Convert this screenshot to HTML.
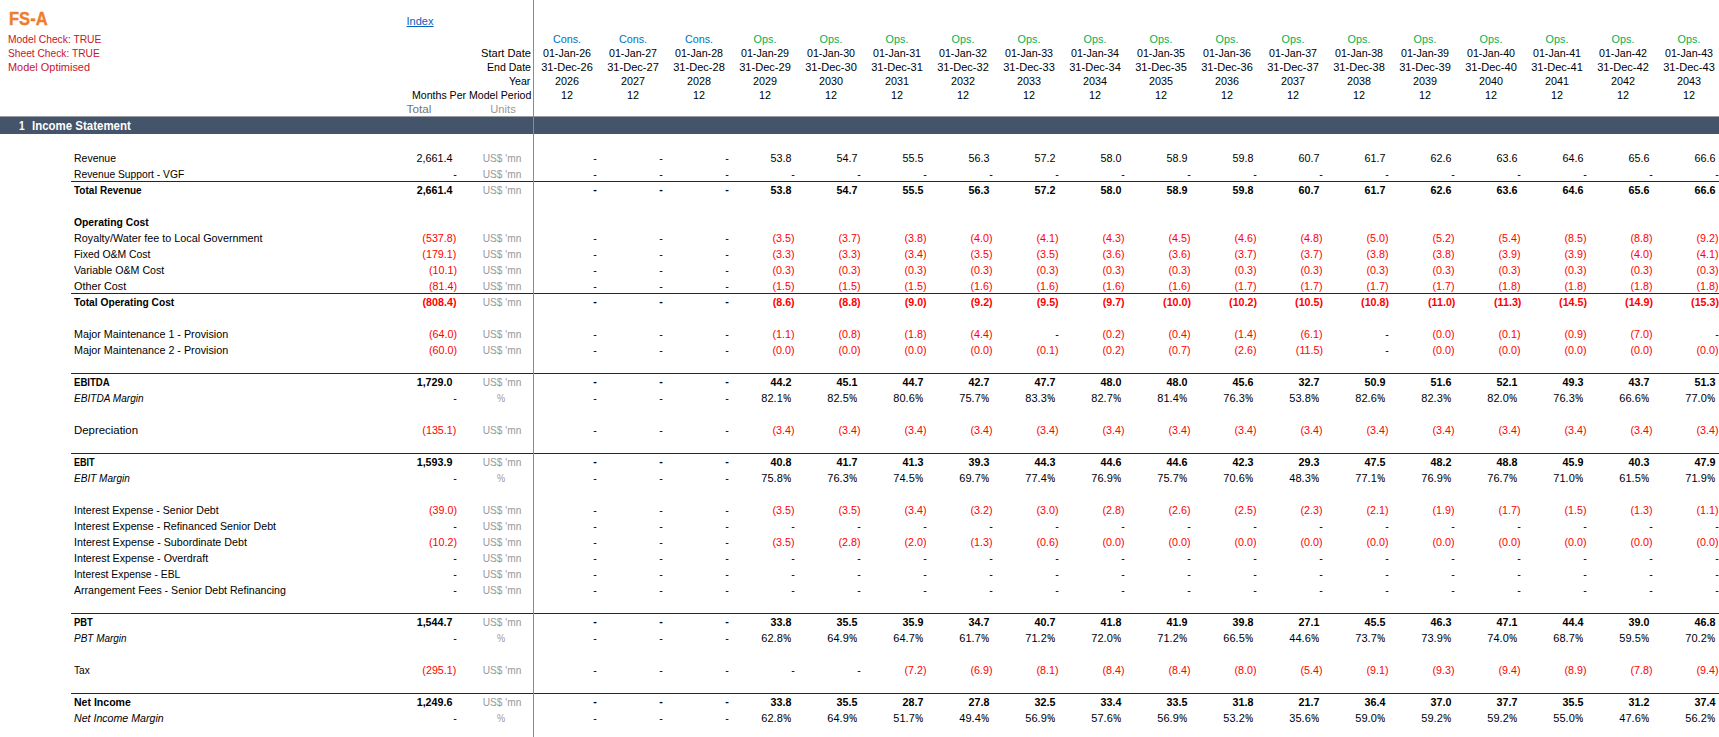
<!DOCTYPE html>
<html><head><meta charset="utf-8"><title>FS-A</title>
<style>
html,body{margin:0;padding:0;background:#fff}
#p{position:relative;width:1719px;height:737px;overflow:hidden;background:#fff;font-family:"Liberation Sans",sans-serif;font-size:11.5px;color:#000}
.t{position:absolute;white-space:nowrap;line-height:16px;height:16px}
.t.h{line-height:14px;height:14px}
.l{transform:scaleX(0.937);transform-origin:0 50%}
.r{transform:scaleX(0.937);transform-origin:100% 50%}
.c{transform:translateX(-50%) scaleX(0.937)}
.b{font-weight:bold}
.r.b{transform:scaleX(0.93)}
.i{font-style:italic}
.n{color:#ff0000}
.d.b{margin-top:-1px}
.g1{color:#747474}
.g2{color:#989898}
.chk{color:#c81428}
.cons{color:#0070c0}
.ops{color:#00b050}
.pc{display:inline-block;transform:scaleX(.8);transform-origin:0 50%;margin-left:.4px;margin-right:-2.05px;-webkit-text-stroke:.15px currentColor}
.lnk{color:#0563c1;text-decoration:underline}
.ttl{position:absolute;white-space:nowrap;font-weight:bold;font-size:18.1px;line-height:24px;color:#ed7d31;-webkit-text-stroke:.35px #ed7d31;transform:translateY(-0.4px) scaleX(.915);transform-origin:0 50%}
.bar{position:absolute;left:0;top:116px;width:1719px;height:18px;background:#44546a;border-top:1px solid #9b9da2;box-sizing:border-box}
.bt{color:#fff;font-weight:bold;font-size:12.5px}
.l.bt{transform:scaleX(.918)}
.hl{position:absolute;left:71px;width:1648px;height:1px;background:#262626}
.vl{position:absolute;left:533px;top:0;width:1px;height:737px;background:#8c8c8c}
</style></head>
<body><div id="p">
<div class="ttl" style="left:9.0px;top:6.6px">FS-A</div>
<div class="t l chk h" style="left:7.9px;top:32px;transform:scaleX(0.8923)">Model Check: TRUE</div>
<div class="t l chk h" style="left:7.68px;top:46px;transform:scaleX(0.8874)">Sheet Check: TRUE</div>
<div class="t l chk h" style="left:7.86px;top:60px;transform:scaleX(0.9506)">Model Optimised</div>
<div class="t c h lnk" style="left:419.6px;top:14px;transform:translateX(-50%) scaleX(.96)">Index</div>
<div class="t l h" style="left:480.64px;top:46px;transform:scaleX(0.9652)">Start Date</div>
<div class="t l h" style="left:486.79px;top:60px;transform:scaleX(0.9172)">End Date</div>
<div class="t l h" style="left:509.07px;top:74px;transform:scaleX(0.9197)">Year</div>
<div class="t l h" style="left:411.78px;top:88px;transform:scaleX(0.9191)">Months Per Model Period</div>
<div class="t c g1 h" style="left:419.3px;top:102px;transform:translateX(-50%) scaleX(1.02)">Total</div>
<div class="t c g2 h" style="left:502.8px;top:102px;transform:translateX(-50%) scaleX(0.97)">Units</div>
<div class="t c cons h" style="left:567px;top:32px">Cons.</div>
<div class="t c h" style="left:566.9px;top:46px;transform:translateX(-50%) scaleX(0.928)">01-Jan-26</div>
<div class="t c h" style="left:566.9px;top:60px;transform:translateX(-50%) scaleX(0.962)">31-Dec-26</div>
<div class="t c h" style="left:567px;top:74px">2026</div>
<div class="t c h" style="left:567px;top:88px">12</div>
<div class="t c cons h" style="left:633px;top:32px">Cons.</div>
<div class="t c h" style="left:632.9px;top:46px;transform:translateX(-50%) scaleX(0.928)">01-Jan-27</div>
<div class="t c h" style="left:632.9px;top:60px;transform:translateX(-50%) scaleX(0.962)">31-Dec-27</div>
<div class="t c h" style="left:633px;top:74px">2027</div>
<div class="t c h" style="left:633px;top:88px">12</div>
<div class="t c cons h" style="left:699px;top:32px">Cons.</div>
<div class="t c h" style="left:698.9px;top:46px;transform:translateX(-50%) scaleX(0.928)">01-Jan-28</div>
<div class="t c h" style="left:698.9px;top:60px;transform:translateX(-50%) scaleX(0.962)">31-Dec-28</div>
<div class="t c h" style="left:699px;top:74px">2028</div>
<div class="t c h" style="left:699px;top:88px">12</div>
<div class="t c ops h" style="left:765px;top:32px">Ops.</div>
<div class="t c h" style="left:764.9px;top:46px;transform:translateX(-50%) scaleX(0.928)">01-Jan-29</div>
<div class="t c h" style="left:764.9px;top:60px;transform:translateX(-50%) scaleX(0.962)">31-Dec-29</div>
<div class="t c h" style="left:765px;top:74px">2029</div>
<div class="t c h" style="left:765px;top:88px">12</div>
<div class="t c ops h" style="left:831px;top:32px">Ops.</div>
<div class="t c h" style="left:830.9px;top:46px;transform:translateX(-50%) scaleX(0.928)">01-Jan-30</div>
<div class="t c h" style="left:830.9px;top:60px;transform:translateX(-50%) scaleX(0.962)">31-Dec-30</div>
<div class="t c h" style="left:831px;top:74px">2030</div>
<div class="t c h" style="left:831px;top:88px">12</div>
<div class="t c ops h" style="left:897px;top:32px">Ops.</div>
<div class="t c h" style="left:896.9px;top:46px;transform:translateX(-50%) scaleX(0.928)">01-Jan-31</div>
<div class="t c h" style="left:896.9px;top:60px;transform:translateX(-50%) scaleX(0.962)">31-Dec-31</div>
<div class="t c h" style="left:897px;top:74px">2031</div>
<div class="t c h" style="left:897px;top:88px">12</div>
<div class="t c ops h" style="left:963px;top:32px">Ops.</div>
<div class="t c h" style="left:962.9px;top:46px;transform:translateX(-50%) scaleX(0.928)">01-Jan-32</div>
<div class="t c h" style="left:962.9px;top:60px;transform:translateX(-50%) scaleX(0.962)">31-Dec-32</div>
<div class="t c h" style="left:963px;top:74px">2032</div>
<div class="t c h" style="left:963px;top:88px">12</div>
<div class="t c ops h" style="left:1029px;top:32px">Ops.</div>
<div class="t c h" style="left:1028.9px;top:46px;transform:translateX(-50%) scaleX(0.928)">01-Jan-33</div>
<div class="t c h" style="left:1028.9px;top:60px;transform:translateX(-50%) scaleX(0.962)">31-Dec-33</div>
<div class="t c h" style="left:1029px;top:74px">2033</div>
<div class="t c h" style="left:1029px;top:88px">12</div>
<div class="t c ops h" style="left:1095px;top:32px">Ops.</div>
<div class="t c h" style="left:1094.9px;top:46px;transform:translateX(-50%) scaleX(0.928)">01-Jan-34</div>
<div class="t c h" style="left:1094.9px;top:60px;transform:translateX(-50%) scaleX(0.962)">31-Dec-34</div>
<div class="t c h" style="left:1095px;top:74px">2034</div>
<div class="t c h" style="left:1095px;top:88px">12</div>
<div class="t c ops h" style="left:1161px;top:32px">Ops.</div>
<div class="t c h" style="left:1160.9px;top:46px;transform:translateX(-50%) scaleX(0.928)">01-Jan-35</div>
<div class="t c h" style="left:1160.9px;top:60px;transform:translateX(-50%) scaleX(0.962)">31-Dec-35</div>
<div class="t c h" style="left:1161px;top:74px">2035</div>
<div class="t c h" style="left:1161px;top:88px">12</div>
<div class="t c ops h" style="left:1227px;top:32px">Ops.</div>
<div class="t c h" style="left:1226.9px;top:46px;transform:translateX(-50%) scaleX(0.928)">01-Jan-36</div>
<div class="t c h" style="left:1226.9px;top:60px;transform:translateX(-50%) scaleX(0.962)">31-Dec-36</div>
<div class="t c h" style="left:1227px;top:74px">2036</div>
<div class="t c h" style="left:1227px;top:88px">12</div>
<div class="t c ops h" style="left:1293px;top:32px">Ops.</div>
<div class="t c h" style="left:1292.9px;top:46px;transform:translateX(-50%) scaleX(0.928)">01-Jan-37</div>
<div class="t c h" style="left:1292.9px;top:60px;transform:translateX(-50%) scaleX(0.962)">31-Dec-37</div>
<div class="t c h" style="left:1293px;top:74px">2037</div>
<div class="t c h" style="left:1293px;top:88px">12</div>
<div class="t c ops h" style="left:1359px;top:32px">Ops.</div>
<div class="t c h" style="left:1358.9px;top:46px;transform:translateX(-50%) scaleX(0.928)">01-Jan-38</div>
<div class="t c h" style="left:1358.9px;top:60px;transform:translateX(-50%) scaleX(0.962)">31-Dec-38</div>
<div class="t c h" style="left:1359px;top:74px">2038</div>
<div class="t c h" style="left:1359px;top:88px">12</div>
<div class="t c ops h" style="left:1425px;top:32px">Ops.</div>
<div class="t c h" style="left:1424.9px;top:46px;transform:translateX(-50%) scaleX(0.928)">01-Jan-39</div>
<div class="t c h" style="left:1424.9px;top:60px;transform:translateX(-50%) scaleX(0.962)">31-Dec-39</div>
<div class="t c h" style="left:1425px;top:74px">2039</div>
<div class="t c h" style="left:1425px;top:88px">12</div>
<div class="t c ops h" style="left:1491px;top:32px">Ops.</div>
<div class="t c h" style="left:1490.9px;top:46px;transform:translateX(-50%) scaleX(0.928)">01-Jan-40</div>
<div class="t c h" style="left:1490.9px;top:60px;transform:translateX(-50%) scaleX(0.962)">31-Dec-40</div>
<div class="t c h" style="left:1491px;top:74px">2040</div>
<div class="t c h" style="left:1491px;top:88px">12</div>
<div class="t c ops h" style="left:1557px;top:32px">Ops.</div>
<div class="t c h" style="left:1556.9px;top:46px;transform:translateX(-50%) scaleX(0.928)">01-Jan-41</div>
<div class="t c h" style="left:1556.9px;top:60px;transform:translateX(-50%) scaleX(0.962)">31-Dec-41</div>
<div class="t c h" style="left:1557px;top:74px">2041</div>
<div class="t c h" style="left:1557px;top:88px">12</div>
<div class="t c ops h" style="left:1623px;top:32px">Ops.</div>
<div class="t c h" style="left:1622.9px;top:46px;transform:translateX(-50%) scaleX(0.928)">01-Jan-42</div>
<div class="t c h" style="left:1622.9px;top:60px;transform:translateX(-50%) scaleX(0.962)">31-Dec-42</div>
<div class="t c h" style="left:1623px;top:74px">2042</div>
<div class="t c h" style="left:1623px;top:88px">12</div>
<div class="t c ops h" style="left:1689px;top:32px">Ops.</div>
<div class="t c h" style="left:1688.9px;top:46px;transform:translateX(-50%) scaleX(0.928)">01-Jan-43</div>
<div class="t c h" style="left:1688.9px;top:60px;transform:translateX(-50%) scaleX(0.962)">31-Dec-43</div>
<div class="t c h" style="left:1689px;top:74px">2043</div>
<div class="t c h" style="left:1689px;top:88px">12</div>
<div class="bar"></div>
<div class="t l bt" style="left:18.6px;top:118px;transform:scaleX(.82)">1</div>
<div class="t l bt" style="left:32px;top:118px">Income Statement</div>
<div class="t l lb" style="left:74.1px;top:150px;transform:scaleX(0.9133)">Revenue</div>
<div class="t r" style="right:1266.4px;top:150px">2,661.4</div>
<div class="t c g2" style="left:502.0px;top:150px;transform:translateX(-50%) scaleX(0.885)">US$ 'mn</div>
<div class="t r d" style="right:1122.1px;top:150px">-</div>
<div class="t r d" style="right:1056.1px;top:150px">-</div>
<div class="t r d" style="right:990.1px;top:150px">-</div>
<div class="t r" style="right:928.0px;top:150px">53.8</div>
<div class="t r" style="right:862.0px;top:150px">54.7</div>
<div class="t r" style="right:796.0px;top:150px">55.5</div>
<div class="t r" style="right:730.0px;top:150px">56.3</div>
<div class="t r" style="right:664.0px;top:150px">57.2</div>
<div class="t r" style="right:598.0px;top:150px">58.0</div>
<div class="t r" style="right:532.0px;top:150px">58.9</div>
<div class="t r" style="right:466.0px;top:150px">59.8</div>
<div class="t r" style="right:400.0px;top:150px">60.7</div>
<div class="t r" style="right:334.0px;top:150px">61.7</div>
<div class="t r" style="right:268.0px;top:150px">62.6</div>
<div class="t r" style="right:202.0px;top:150px">63.6</div>
<div class="t r" style="right:136.0px;top:150px">64.6</div>
<div class="t r" style="right:70.0px;top:150px">65.6</div>
<div class="t r" style="right:4.0px;top:150px">66.6</div>
<div class="t l lb" style="left:74.11px;top:166px;transform:scaleX(0.8932)">Revenue Support - VGF</div>
<div class="t r d" style="right:1262.5px;top:166px">-</div>
<div class="t c g2" style="left:502.0px;top:166px;transform:translateX(-50%) scaleX(0.885)">US$ 'mn</div>
<div class="t r d" style="right:1122.1px;top:166px">-</div>
<div class="t r d" style="right:1056.1px;top:166px">-</div>
<div class="t r d" style="right:990.1px;top:166px">-</div>
<div class="t r d" style="right:924.1px;top:166px">-</div>
<div class="t r d" style="right:858.1px;top:166px">-</div>
<div class="t r d" style="right:792.1px;top:166px">-</div>
<div class="t r d" style="right:726.1px;top:166px">-</div>
<div class="t r d" style="right:660.1px;top:166px">-</div>
<div class="t r d" style="right:594.1px;top:166px">-</div>
<div class="t r d" style="right:528.1px;top:166px">-</div>
<div class="t r d" style="right:462.1px;top:166px">-</div>
<div class="t r d" style="right:396.1px;top:166px">-</div>
<div class="t r d" style="right:330.1px;top:166px">-</div>
<div class="t r d" style="right:264.1px;top:166px">-</div>
<div class="t r d" style="right:198.1px;top:166px">-</div>
<div class="t r d" style="right:132.1px;top:166px">-</div>
<div class="t r d" style="right:66.1px;top:166px">-</div>
<div class="t r d" style="right:0.1px;top:166px">-</div>
<div class="t l b lb" style="left:74.34px;top:182px;transform:scaleX(0.8705)">Total Revenue</div>
<div class="t r b" style="right:1266.4px;top:182px">2,661.4</div>
<div class="t c g2" style="left:502.0px;top:182px;transform:translateX(-50%) scaleX(0.885)">US$ 'mn</div>
<div class="t r d b" style="right:1122.1px;top:182px">-</div>
<div class="t r d b" style="right:1056.1px;top:182px">-</div>
<div class="t r d b" style="right:990.1px;top:182px">-</div>
<div class="t r b" style="right:928.0px;top:182px">53.8</div>
<div class="t r b" style="right:862.0px;top:182px">54.7</div>
<div class="t r b" style="right:796.0px;top:182px">55.5</div>
<div class="t r b" style="right:730.0px;top:182px">56.3</div>
<div class="t r b" style="right:664.0px;top:182px">57.2</div>
<div class="t r b" style="right:598.0px;top:182px">58.0</div>
<div class="t r b" style="right:532.0px;top:182px">58.9</div>
<div class="t r b" style="right:466.0px;top:182px">59.8</div>
<div class="t r b" style="right:400.0px;top:182px">60.7</div>
<div class="t r b" style="right:334.0px;top:182px">61.7</div>
<div class="t r b" style="right:268.0px;top:182px">62.6</div>
<div class="t r b" style="right:202.0px;top:182px">63.6</div>
<div class="t r b" style="right:136.0px;top:182px">64.6</div>
<div class="t r b" style="right:70.0px;top:182px">65.6</div>
<div class="t r b" style="right:4.0px;top:182px">66.6</div>
<div class="t l b lb" style="left:73.97px;top:214px;transform:scaleX(0.8992)">Operating Cost</div>
<div class="t l lb" style="left:74.09px;top:230px;transform:scaleX(0.9383)">Royalty/Water fee to Local Government</div>
<div class="t r n" style="right:1262.4px;top:230px">(537.8)</div>
<div class="t c g2" style="left:502.0px;top:230px;transform:translateX(-50%) scaleX(0.885)">US$ 'mn</div>
<div class="t r d" style="right:1122.1px;top:230px">-</div>
<div class="t r d" style="right:1056.1px;top:230px">-</div>
<div class="t r d" style="right:990.1px;top:230px">-</div>
<div class="t r n" style="right:924.0px;top:230px">(3.5)</div>
<div class="t r n" style="right:858.0px;top:230px">(3.7)</div>
<div class="t r n" style="right:792.0px;top:230px">(3.8)</div>
<div class="t r n" style="right:726.0px;top:230px">(4.0)</div>
<div class="t r n" style="right:660.0px;top:230px">(4.1)</div>
<div class="t r n" style="right:594.0px;top:230px">(4.3)</div>
<div class="t r n" style="right:528.0px;top:230px">(4.5)</div>
<div class="t r n" style="right:462.0px;top:230px">(4.6)</div>
<div class="t r n" style="right:396.0px;top:230px">(4.8)</div>
<div class="t r n" style="right:330.0px;top:230px">(5.0)</div>
<div class="t r n" style="right:264.0px;top:230px">(5.2)</div>
<div class="t r n" style="right:198.0px;top:230px">(5.4)</div>
<div class="t r n" style="right:132.0px;top:230px">(8.5)</div>
<div class="t r n" style="right:66.0px;top:230px">(8.8)</div>
<div class="t r n" style="right:0.0px;top:230px">(9.2)</div>
<div class="t l lb" style="left:74.1px;top:246px;transform:scaleX(0.9064)">Fixed O&amp;M Cost</div>
<div class="t r n" style="right:1262.4px;top:246px">(179.1)</div>
<div class="t c g2" style="left:502.0px;top:246px;transform:translateX(-50%) scaleX(0.885)">US$ 'mn</div>
<div class="t r d" style="right:1122.1px;top:246px">-</div>
<div class="t r d" style="right:1056.1px;top:246px">-</div>
<div class="t r d" style="right:990.1px;top:246px">-</div>
<div class="t r n" style="right:924.0px;top:246px">(3.3)</div>
<div class="t r n" style="right:858.0px;top:246px">(3.3)</div>
<div class="t r n" style="right:792.0px;top:246px">(3.4)</div>
<div class="t r n" style="right:726.0px;top:246px">(3.5)</div>
<div class="t r n" style="right:660.0px;top:246px">(3.5)</div>
<div class="t r n" style="right:594.0px;top:246px">(3.6)</div>
<div class="t r n" style="right:528.0px;top:246px">(3.6)</div>
<div class="t r n" style="right:462.0px;top:246px">(3.7)</div>
<div class="t r n" style="right:396.0px;top:246px">(3.7)</div>
<div class="t r n" style="right:330.0px;top:246px">(3.8)</div>
<div class="t r n" style="right:264.0px;top:246px">(3.8)</div>
<div class="t r n" style="right:198.0px;top:246px">(3.9)</div>
<div class="t r n" style="right:132.0px;top:246px">(3.9)</div>
<div class="t r n" style="right:66.0px;top:246px">(4.0)</div>
<div class="t r n" style="right:0.0px;top:246px">(4.1)</div>
<div class="t l lb" style="left:74.33px;top:262px;transform:scaleX(0.9252)">Variable O&amp;M Cost</div>
<div class="t r n" style="right:1262.4px;top:262px">(10.1)</div>
<div class="t c g2" style="left:502.0px;top:262px;transform:translateX(-50%) scaleX(0.885)">US$ 'mn</div>
<div class="t r d" style="right:1122.1px;top:262px">-</div>
<div class="t r d" style="right:1056.1px;top:262px">-</div>
<div class="t r d" style="right:990.1px;top:262px">-</div>
<div class="t r n" style="right:924.0px;top:262px">(0.3)</div>
<div class="t r n" style="right:858.0px;top:262px">(0.3)</div>
<div class="t r n" style="right:792.0px;top:262px">(0.3)</div>
<div class="t r n" style="right:726.0px;top:262px">(0.3)</div>
<div class="t r n" style="right:660.0px;top:262px">(0.3)</div>
<div class="t r n" style="right:594.0px;top:262px">(0.3)</div>
<div class="t r n" style="right:528.0px;top:262px">(0.3)</div>
<div class="t r n" style="right:462.0px;top:262px">(0.3)</div>
<div class="t r n" style="right:396.0px;top:262px">(0.3)</div>
<div class="t r n" style="right:330.0px;top:262px">(0.3)</div>
<div class="t r n" style="right:264.0px;top:262px">(0.3)</div>
<div class="t r n" style="right:198.0px;top:262px">(0.3)</div>
<div class="t r n" style="right:132.0px;top:262px">(0.3)</div>
<div class="t r n" style="right:66.0px;top:262px">(0.3)</div>
<div class="t r n" style="right:0.0px;top:262px">(0.3)</div>
<div class="t l lb" style="left:74.32px;top:278px;transform:scaleX(0.9389)">Other Cost</div>
<div class="t r n" style="right:1262.4px;top:278px">(81.4)</div>
<div class="t c g2" style="left:502.0px;top:278px;transform:translateX(-50%) scaleX(0.885)">US$ 'mn</div>
<div class="t r d" style="right:1122.1px;top:278px">-</div>
<div class="t r d" style="right:1056.1px;top:278px">-</div>
<div class="t r d" style="right:990.1px;top:278px">-</div>
<div class="t r n" style="right:924.0px;top:278px">(1.5)</div>
<div class="t r n" style="right:858.0px;top:278px">(1.5)</div>
<div class="t r n" style="right:792.0px;top:278px">(1.5)</div>
<div class="t r n" style="right:726.0px;top:278px">(1.6)</div>
<div class="t r n" style="right:660.0px;top:278px">(1.6)</div>
<div class="t r n" style="right:594.0px;top:278px">(1.6)</div>
<div class="t r n" style="right:528.0px;top:278px">(1.6)</div>
<div class="t r n" style="right:462.0px;top:278px">(1.7)</div>
<div class="t r n" style="right:396.0px;top:278px">(1.7)</div>
<div class="t r n" style="right:330.0px;top:278px">(1.7)</div>
<div class="t r n" style="right:264.0px;top:278px">(1.7)</div>
<div class="t r n" style="right:198.0px;top:278px">(1.8)</div>
<div class="t r n" style="right:132.0px;top:278px">(1.8)</div>
<div class="t r n" style="right:66.0px;top:278px">(1.8)</div>
<div class="t r n" style="right:0.0px;top:278px">(1.8)</div>
<div class="t l b lb" style="left:74.45px;top:294px;transform:scaleX(0.8882)">Total Operating Cost</div>
<div class="t r n b" style="right:1262.4px;top:294px">(808.4)</div>
<div class="t c g2" style="left:502.0px;top:294px;transform:translateX(-50%) scaleX(0.885)">US$ 'mn</div>
<div class="t r d b" style="right:1122.1px;top:294px">-</div>
<div class="t r d b" style="right:1056.1px;top:294px">-</div>
<div class="t r d b" style="right:990.1px;top:294px">-</div>
<div class="t r n b" style="right:924.0px;top:294px">(8.6)</div>
<div class="t r n b" style="right:858.0px;top:294px">(8.8)</div>
<div class="t r n b" style="right:792.0px;top:294px">(9.0)</div>
<div class="t r n b" style="right:726.0px;top:294px">(9.2)</div>
<div class="t r n b" style="right:660.0px;top:294px">(9.5)</div>
<div class="t r n b" style="right:594.0px;top:294px">(9.7)</div>
<div class="t r n b" style="right:528.0px;top:294px">(10.0)</div>
<div class="t r n b" style="right:462.0px;top:294px">(10.2)</div>
<div class="t r n b" style="right:396.0px;top:294px">(10.5)</div>
<div class="t r n b" style="right:330.0px;top:294px">(10.8)</div>
<div class="t r n b" style="right:264.0px;top:294px">(11.0)</div>
<div class="t r n b" style="right:198.0px;top:294px">(11.3)</div>
<div class="t r n b" style="right:132.0px;top:294px">(14.5)</div>
<div class="t r n b" style="right:66.0px;top:294px">(14.9)</div>
<div class="t r n b" style="right:0.0px;top:294px">(15.3)</div>
<div class="t l lb" style="left:74.07px;top:326px;transform:scaleX(0.9345)">Major Maintenance 1 - Provision</div>
<div class="t r n" style="right:1262.4px;top:326px">(64.0)</div>
<div class="t c g2" style="left:502.0px;top:326px;transform:translateX(-50%) scaleX(0.885)">US$ 'mn</div>
<div class="t r d" style="right:1122.1px;top:326px">-</div>
<div class="t r d" style="right:1056.1px;top:326px">-</div>
<div class="t r d" style="right:990.1px;top:326px">-</div>
<div class="t r n" style="right:924.0px;top:326px">(1.1)</div>
<div class="t r n" style="right:858.0px;top:326px">(0.8)</div>
<div class="t r n" style="right:792.0px;top:326px">(1.8)</div>
<div class="t r n" style="right:726.0px;top:326px">(4.4)</div>
<div class="t r d" style="right:660.1px;top:326px">-</div>
<div class="t r n" style="right:594.0px;top:326px">(0.2)</div>
<div class="t r n" style="right:528.0px;top:326px">(0.4)</div>
<div class="t r n" style="right:462.0px;top:326px">(1.4)</div>
<div class="t r n" style="right:396.0px;top:326px">(6.1)</div>
<div class="t r d" style="right:330.1px;top:326px">-</div>
<div class="t r n" style="right:264.0px;top:326px">(0.0)</div>
<div class="t r n" style="right:198.0px;top:326px">(0.1)</div>
<div class="t r n" style="right:132.0px;top:326px">(0.9)</div>
<div class="t r n" style="right:66.0px;top:326px">(7.0)</div>
<div class="t r d" style="right:0.1px;top:326px">-</div>
<div class="t l lb" style="left:74.07px;top:342px;transform:scaleX(0.9345)">Major Maintenance 2 - Provision</div>
<div class="t r n" style="right:1262.4px;top:342px">(60.0)</div>
<div class="t c g2" style="left:502.0px;top:342px;transform:translateX(-50%) scaleX(0.885)">US$ 'mn</div>
<div class="t r d" style="right:1122.1px;top:342px">-</div>
<div class="t r d" style="right:1056.1px;top:342px">-</div>
<div class="t r d" style="right:990.1px;top:342px">-</div>
<div class="t r n" style="right:924.0px;top:342px">(0.0)</div>
<div class="t r n" style="right:858.0px;top:342px">(0.0)</div>
<div class="t r n" style="right:792.0px;top:342px">(0.0)</div>
<div class="t r n" style="right:726.0px;top:342px">(0.0)</div>
<div class="t r n" style="right:660.0px;top:342px">(0.1)</div>
<div class="t r n" style="right:594.0px;top:342px">(0.2)</div>
<div class="t r n" style="right:528.0px;top:342px">(0.7)</div>
<div class="t r n" style="right:462.0px;top:342px">(2.6)</div>
<div class="t r n" style="right:396.0px;top:342px">(11.5)</div>
<div class="t r d" style="right:330.1px;top:342px">-</div>
<div class="t r n" style="right:264.0px;top:342px">(0.0)</div>
<div class="t r n" style="right:198.0px;top:342px">(0.0)</div>
<div class="t r n" style="right:132.0px;top:342px">(0.0)</div>
<div class="t r n" style="right:66.0px;top:342px">(0.0)</div>
<div class="t r n" style="right:0.0px;top:342px">(0.0)</div>
<div class="t l b lb" style="left:74.17px;top:374px;transform:scaleX(0.8349)">EBITDA</div>
<div class="t r b" style="right:1266.4px;top:374px">1,729.0</div>
<div class="t c g2" style="left:502.0px;top:374px;transform:translateX(-50%) scaleX(0.885)">US$ 'mn</div>
<div class="t r d b" style="right:1122.1px;top:374px">-</div>
<div class="t r d b" style="right:1056.1px;top:374px">-</div>
<div class="t r d b" style="right:990.1px;top:374px">-</div>
<div class="t r b" style="right:928.0px;top:374px">44.2</div>
<div class="t r b" style="right:862.0px;top:374px">45.1</div>
<div class="t r b" style="right:796.0px;top:374px">44.7</div>
<div class="t r b" style="right:730.0px;top:374px">42.7</div>
<div class="t r b" style="right:664.0px;top:374px">47.7</div>
<div class="t r b" style="right:598.0px;top:374px">48.0</div>
<div class="t r b" style="right:532.0px;top:374px">48.0</div>
<div class="t r b" style="right:466.0px;top:374px">45.6</div>
<div class="t r b" style="right:400.0px;top:374px">32.7</div>
<div class="t r b" style="right:334.0px;top:374px">50.9</div>
<div class="t r b" style="right:268.0px;top:374px">51.6</div>
<div class="t r b" style="right:202.0px;top:374px">52.1</div>
<div class="t r b" style="right:136.0px;top:374px">49.3</div>
<div class="t r b" style="right:70.0px;top:374px">43.7</div>
<div class="t r b" style="right:4.0px;top:374px">51.3</div>
<div class="t l i lb" style="left:74.41px;top:390px;transform:scaleX(0.8771)">EBITDA Margin</div>
<div class="t r d" style="right:1262.5px;top:390px">-</div>
<div class="t c g2" style="left:501.0px;top:390px;transform:translateX(-50%) scaleX(0.8)">%</div>
<div class="t r d" style="right:1122.1px;top:390px">-</div>
<div class="t r d" style="right:1056.1px;top:390px">-</div>
<div class="t r d" style="right:990.1px;top:390px">-</div>
<div class="t r" style="right:928.1px;top:390px;transform:scaleX(0.957)">82.1<span class="pc">%</span></div>
<div class="t r" style="right:862.1px;top:390px;transform:scaleX(0.957)">82.5<span class="pc">%</span></div>
<div class="t r" style="right:796.1px;top:390px;transform:scaleX(0.957)">80.6<span class="pc">%</span></div>
<div class="t r" style="right:730.1px;top:390px;transform:scaleX(0.957)">75.7<span class="pc">%</span></div>
<div class="t r" style="right:664.1px;top:390px;transform:scaleX(0.957)">83.3<span class="pc">%</span></div>
<div class="t r" style="right:598.1px;top:390px;transform:scaleX(0.957)">82.7<span class="pc">%</span></div>
<div class="t r" style="right:532.1px;top:390px;transform:scaleX(0.957)">81.4<span class="pc">%</span></div>
<div class="t r" style="right:466.1px;top:390px;transform:scaleX(0.957)">76.3<span class="pc">%</span></div>
<div class="t r" style="right:400.1px;top:390px;transform:scaleX(0.957)">53.8<span class="pc">%</span></div>
<div class="t r" style="right:334.1px;top:390px;transform:scaleX(0.957)">82.6<span class="pc">%</span></div>
<div class="t r" style="right:268.1px;top:390px;transform:scaleX(0.957)">82.3<span class="pc">%</span></div>
<div class="t r" style="right:202.1px;top:390px;transform:scaleX(0.957)">82.0<span class="pc">%</span></div>
<div class="t r" style="right:136.1px;top:390px;transform:scaleX(0.957)">76.3<span class="pc">%</span></div>
<div class="t r" style="right:70.1px;top:390px;transform:scaleX(0.957)">66.6<span class="pc">%</span></div>
<div class="t r" style="right:4.1px;top:390px;transform:scaleX(0.957)">77.0<span class="pc">%</span></div>
<div class="t l lb" style="left:74.04px;top:422px;transform:scaleX(0.9914)">Depreciation</div>
<div class="t r n" style="right:1262.4px;top:422px">(135.1)</div>
<div class="t c g2" style="left:502.0px;top:422px;transform:translateX(-50%) scaleX(0.885)">US$ 'mn</div>
<div class="t r d" style="right:1122.1px;top:422px">-</div>
<div class="t r d" style="right:1056.1px;top:422px">-</div>
<div class="t r d" style="right:990.1px;top:422px">-</div>
<div class="t r n" style="right:924.0px;top:422px">(3.4)</div>
<div class="t r n" style="right:858.0px;top:422px">(3.4)</div>
<div class="t r n" style="right:792.0px;top:422px">(3.4)</div>
<div class="t r n" style="right:726.0px;top:422px">(3.4)</div>
<div class="t r n" style="right:660.0px;top:422px">(3.4)</div>
<div class="t r n" style="right:594.0px;top:422px">(3.4)</div>
<div class="t r n" style="right:528.0px;top:422px">(3.4)</div>
<div class="t r n" style="right:462.0px;top:422px">(3.4)</div>
<div class="t r n" style="right:396.0px;top:422px">(3.4)</div>
<div class="t r n" style="right:330.0px;top:422px">(3.4)</div>
<div class="t r n" style="right:264.0px;top:422px">(3.4)</div>
<div class="t r n" style="right:198.0px;top:422px">(3.4)</div>
<div class="t r n" style="right:132.0px;top:422px">(3.4)</div>
<div class="t r n" style="right:66.0px;top:422px">(3.4)</div>
<div class="t r n" style="right:0.0px;top:422px">(3.4)</div>
<div class="t l b lb" style="left:74.18px;top:454px;transform:scaleX(0.7885)">EBIT</div>
<div class="t r b" style="right:1266.4px;top:454px">1,593.9</div>
<div class="t c g2" style="left:502.0px;top:454px;transform:translateX(-50%) scaleX(0.885)">US$ 'mn</div>
<div class="t r d b" style="right:1122.1px;top:454px">-</div>
<div class="t r d b" style="right:1056.1px;top:454px">-</div>
<div class="t r d b" style="right:990.1px;top:454px">-</div>
<div class="t r b" style="right:928.0px;top:454px">40.8</div>
<div class="t r b" style="right:862.0px;top:454px">41.7</div>
<div class="t r b" style="right:796.0px;top:454px">41.3</div>
<div class="t r b" style="right:730.0px;top:454px">39.3</div>
<div class="t r b" style="right:664.0px;top:454px">44.3</div>
<div class="t r b" style="right:598.0px;top:454px">44.6</div>
<div class="t r b" style="right:532.0px;top:454px">44.6</div>
<div class="t r b" style="right:466.0px;top:454px">42.3</div>
<div class="t r b" style="right:400.0px;top:454px">29.3</div>
<div class="t r b" style="right:334.0px;top:454px">47.5</div>
<div class="t r b" style="right:268.0px;top:454px">48.2</div>
<div class="t r b" style="right:202.0px;top:454px">48.8</div>
<div class="t r b" style="right:136.0px;top:454px">45.9</div>
<div class="t r b" style="right:70.0px;top:454px">40.3</div>
<div class="t r b" style="right:4.0px;top:454px">47.9</div>
<div class="t l i lb" style="left:74.41px;top:470px;transform:scaleX(0.873)">EBIT Margin</div>
<div class="t r d" style="right:1262.5px;top:470px">-</div>
<div class="t c g2" style="left:501.0px;top:470px;transform:translateX(-50%) scaleX(0.8)">%</div>
<div class="t r d" style="right:1122.1px;top:470px">-</div>
<div class="t r d" style="right:1056.1px;top:470px">-</div>
<div class="t r d" style="right:990.1px;top:470px">-</div>
<div class="t r" style="right:928.1px;top:470px;transform:scaleX(0.957)">75.8<span class="pc">%</span></div>
<div class="t r" style="right:862.1px;top:470px;transform:scaleX(0.957)">76.3<span class="pc">%</span></div>
<div class="t r" style="right:796.1px;top:470px;transform:scaleX(0.957)">74.5<span class="pc">%</span></div>
<div class="t r" style="right:730.1px;top:470px;transform:scaleX(0.957)">69.7<span class="pc">%</span></div>
<div class="t r" style="right:664.1px;top:470px;transform:scaleX(0.957)">77.4<span class="pc">%</span></div>
<div class="t r" style="right:598.1px;top:470px;transform:scaleX(0.957)">76.9<span class="pc">%</span></div>
<div class="t r" style="right:532.1px;top:470px;transform:scaleX(0.957)">75.7<span class="pc">%</span></div>
<div class="t r" style="right:466.1px;top:470px;transform:scaleX(0.957)">70.6<span class="pc">%</span></div>
<div class="t r" style="right:400.1px;top:470px;transform:scaleX(0.957)">48.3<span class="pc">%</span></div>
<div class="t r" style="right:334.1px;top:470px;transform:scaleX(0.957)">77.1<span class="pc">%</span></div>
<div class="t r" style="right:268.1px;top:470px;transform:scaleX(0.957)">76.9<span class="pc">%</span></div>
<div class="t r" style="right:202.1px;top:470px;transform:scaleX(0.957)">76.7<span class="pc">%</span></div>
<div class="t r" style="right:136.1px;top:470px;transform:scaleX(0.957)">71.0<span class="pc">%</span></div>
<div class="t r" style="right:70.1px;top:470px;transform:scaleX(0.957)">61.5<span class="pc">%</span></div>
<div class="t r" style="right:4.1px;top:470px;transform:scaleX(0.957)">71.9<span class="pc">%</span></div>
<div class="t l lb" style="left:73.82px;top:502px;transform:scaleX(0.9198)">Interest Expense - Senior Debt</div>
<div class="t r n" style="right:1262.4px;top:502px">(39.0)</div>
<div class="t c g2" style="left:502.0px;top:502px;transform:translateX(-50%) scaleX(0.885)">US$ 'mn</div>
<div class="t r d" style="right:1122.1px;top:502px">-</div>
<div class="t r d" style="right:1056.1px;top:502px">-</div>
<div class="t r d" style="right:990.1px;top:502px">-</div>
<div class="t r n" style="right:924.0px;top:502px">(3.5)</div>
<div class="t r n" style="right:858.0px;top:502px">(3.5)</div>
<div class="t r n" style="right:792.0px;top:502px">(3.4)</div>
<div class="t r n" style="right:726.0px;top:502px">(3.2)</div>
<div class="t r n" style="right:660.0px;top:502px">(3.0)</div>
<div class="t r n" style="right:594.0px;top:502px">(2.8)</div>
<div class="t r n" style="right:528.0px;top:502px">(2.6)</div>
<div class="t r n" style="right:462.0px;top:502px">(2.5)</div>
<div class="t r n" style="right:396.0px;top:502px">(2.3)</div>
<div class="t r n" style="right:330.0px;top:502px">(2.1)</div>
<div class="t r n" style="right:264.0px;top:502px">(1.9)</div>
<div class="t r n" style="right:198.0px;top:502px">(1.7)</div>
<div class="t r n" style="right:132.0px;top:502px">(1.5)</div>
<div class="t r n" style="right:66.0px;top:502px">(1.3)</div>
<div class="t r n" style="right:0.0px;top:502px">(1.1)</div>
<div class="t l lb" style="left:73.82px;top:518px;transform:scaleX(0.9241)">Interest Expense - Refinanced Senior Debt</div>
<div class="t r d" style="right:1262.5px;top:518px">-</div>
<div class="t c g2" style="left:502.0px;top:518px;transform:translateX(-50%) scaleX(0.885)">US$ 'mn</div>
<div class="t r d" style="right:1122.1px;top:518px">-</div>
<div class="t r d" style="right:1056.1px;top:518px">-</div>
<div class="t r d" style="right:990.1px;top:518px">-</div>
<div class="t r d" style="right:924.1px;top:518px">-</div>
<div class="t r d" style="right:858.1px;top:518px">-</div>
<div class="t r d" style="right:792.1px;top:518px">-</div>
<div class="t r d" style="right:726.1px;top:518px">-</div>
<div class="t r d" style="right:660.1px;top:518px">-</div>
<div class="t r d" style="right:594.1px;top:518px">-</div>
<div class="t r d" style="right:528.1px;top:518px">-</div>
<div class="t r d" style="right:462.1px;top:518px">-</div>
<div class="t r d" style="right:396.1px;top:518px">-</div>
<div class="t r d" style="right:330.1px;top:518px">-</div>
<div class="t r d" style="right:264.1px;top:518px">-</div>
<div class="t r d" style="right:198.1px;top:518px">-</div>
<div class="t r d" style="right:132.1px;top:518px">-</div>
<div class="t r d" style="right:66.1px;top:518px">-</div>
<div class="t r d" style="right:0.1px;top:518px">-</div>
<div class="t l lb" style="left:73.81px;top:534px;transform:scaleX(0.9292)">Interest Expense - Subordinate Debt</div>
<div class="t r n" style="right:1262.4px;top:534px">(10.2)</div>
<div class="t c g2" style="left:502.0px;top:534px;transform:translateX(-50%) scaleX(0.885)">US$ 'mn</div>
<div class="t r d" style="right:1122.1px;top:534px">-</div>
<div class="t r d" style="right:1056.1px;top:534px">-</div>
<div class="t r d" style="right:990.1px;top:534px">-</div>
<div class="t r n" style="right:924.0px;top:534px">(3.5)</div>
<div class="t r n" style="right:858.0px;top:534px">(2.8)</div>
<div class="t r n" style="right:792.0px;top:534px">(2.0)</div>
<div class="t r n" style="right:726.0px;top:534px">(1.3)</div>
<div class="t r n" style="right:660.0px;top:534px">(0.6)</div>
<div class="t r n" style="right:594.0px;top:534px">(0.0)</div>
<div class="t r n" style="right:528.0px;top:534px">(0.0)</div>
<div class="t r n" style="right:462.0px;top:534px">(0.0)</div>
<div class="t r n" style="right:396.0px;top:534px">(0.0)</div>
<div class="t r n" style="right:330.0px;top:534px">(0.0)</div>
<div class="t r n" style="right:264.0px;top:534px">(0.0)</div>
<div class="t r n" style="right:198.0px;top:534px">(0.0)</div>
<div class="t r n" style="right:132.0px;top:534px">(0.0)</div>
<div class="t r n" style="right:66.0px;top:534px">(0.0)</div>
<div class="t r n" style="right:0.0px;top:534px">(0.0)</div>
<div class="t l lb" style="left:73.82px;top:550px;transform:scaleX(0.9286)">Interest Expense - Overdraft</div>
<div class="t r d" style="right:1262.5px;top:550px">-</div>
<div class="t c g2" style="left:502.0px;top:550px;transform:translateX(-50%) scaleX(0.885)">US$ 'mn</div>
<div class="t r d" style="right:1122.1px;top:550px">-</div>
<div class="t r d" style="right:1056.1px;top:550px">-</div>
<div class="t r d" style="right:990.1px;top:550px">-</div>
<div class="t r d" style="right:924.1px;top:550px">-</div>
<div class="t r d" style="right:858.1px;top:550px">-</div>
<div class="t r d" style="right:792.1px;top:550px">-</div>
<div class="t r d" style="right:726.1px;top:550px">-</div>
<div class="t r d" style="right:660.1px;top:550px">-</div>
<div class="t r d" style="right:594.1px;top:550px">-</div>
<div class="t r d" style="right:528.1px;top:550px">-</div>
<div class="t r d" style="right:462.1px;top:550px">-</div>
<div class="t r d" style="right:396.1px;top:550px">-</div>
<div class="t r d" style="right:330.1px;top:550px">-</div>
<div class="t r d" style="right:264.1px;top:550px">-</div>
<div class="t r d" style="right:198.1px;top:550px">-</div>
<div class="t r d" style="right:132.1px;top:550px">-</div>
<div class="t r d" style="right:66.1px;top:550px">-</div>
<div class="t r d" style="right:0.1px;top:550px">-</div>
<div class="t l lb" style="left:73.83px;top:566px;transform:scaleX(0.8986)">Interest Expense - EBL</div>
<div class="t r d" style="right:1262.5px;top:566px">-</div>
<div class="t c g2" style="left:502.0px;top:566px;transform:translateX(-50%) scaleX(0.885)">US$ 'mn</div>
<div class="t r d" style="right:1122.1px;top:566px">-</div>
<div class="t r d" style="right:1056.1px;top:566px">-</div>
<div class="t r d" style="right:990.1px;top:566px">-</div>
<div class="t r d" style="right:924.1px;top:566px">-</div>
<div class="t r d" style="right:858.1px;top:566px">-</div>
<div class="t r d" style="right:792.1px;top:566px">-</div>
<div class="t r d" style="right:726.1px;top:566px">-</div>
<div class="t r d" style="right:660.1px;top:566px">-</div>
<div class="t r d" style="right:594.1px;top:566px">-</div>
<div class="t r d" style="right:528.1px;top:566px">-</div>
<div class="t r d" style="right:462.1px;top:566px">-</div>
<div class="t r d" style="right:396.1px;top:566px">-</div>
<div class="t r d" style="right:330.1px;top:566px">-</div>
<div class="t r d" style="right:264.1px;top:566px">-</div>
<div class="t r d" style="right:198.1px;top:566px">-</div>
<div class="t r d" style="right:132.1px;top:566px">-</div>
<div class="t r d" style="right:66.1px;top:566px">-</div>
<div class="t r d" style="right:0.1px;top:566px">-</div>
<div class="t l lb" style="left:73.77px;top:582px;transform:scaleX(0.9206)">Arrangement Fees - Senior Debt Refinancing</div>
<div class="t r d" style="right:1262.5px;top:582px">-</div>
<div class="t c g2" style="left:502.0px;top:582px;transform:translateX(-50%) scaleX(0.885)">US$ 'mn</div>
<div class="t r d" style="right:1122.1px;top:582px">-</div>
<div class="t r d" style="right:1056.1px;top:582px">-</div>
<div class="t r d" style="right:990.1px;top:582px">-</div>
<div class="t r d" style="right:924.1px;top:582px">-</div>
<div class="t r d" style="right:858.1px;top:582px">-</div>
<div class="t r d" style="right:792.1px;top:582px">-</div>
<div class="t r d" style="right:726.1px;top:582px">-</div>
<div class="t r d" style="right:660.1px;top:582px">-</div>
<div class="t r d" style="right:594.1px;top:582px">-</div>
<div class="t r d" style="right:528.1px;top:582px">-</div>
<div class="t r d" style="right:462.1px;top:582px">-</div>
<div class="t r d" style="right:396.1px;top:582px">-</div>
<div class="t r d" style="right:330.1px;top:582px">-</div>
<div class="t r d" style="right:264.1px;top:582px">-</div>
<div class="t r d" style="right:198.1px;top:582px">-</div>
<div class="t r d" style="right:132.1px;top:582px">-</div>
<div class="t r d" style="right:66.1px;top:582px">-</div>
<div class="t r d" style="right:0.1px;top:582px">-</div>
<div class="t l b lb" style="left:74.07px;top:614px;transform:scaleX(0.8183)">PBT</div>
<div class="t r b" style="right:1266.4px;top:614px">1,544.7</div>
<div class="t c g2" style="left:502.0px;top:614px;transform:translateX(-50%) scaleX(0.885)">US$ 'mn</div>
<div class="t r d b" style="right:1122.1px;top:614px">-</div>
<div class="t r d b" style="right:1056.1px;top:614px">-</div>
<div class="t r d b" style="right:990.1px;top:614px">-</div>
<div class="t r b" style="right:928.0px;top:614px">33.8</div>
<div class="t r b" style="right:862.0px;top:614px">35.5</div>
<div class="t r b" style="right:796.0px;top:614px">35.9</div>
<div class="t r b" style="right:730.0px;top:614px">34.7</div>
<div class="t r b" style="right:664.0px;top:614px">40.7</div>
<div class="t r b" style="right:598.0px;top:614px">41.8</div>
<div class="t r b" style="right:532.0px;top:614px">41.9</div>
<div class="t r b" style="right:466.0px;top:614px">39.8</div>
<div class="t r b" style="right:400.0px;top:614px">27.1</div>
<div class="t r b" style="right:334.0px;top:614px">45.5</div>
<div class="t r b" style="right:268.0px;top:614px">46.3</div>
<div class="t r b" style="right:202.0px;top:614px">47.1</div>
<div class="t r b" style="right:136.0px;top:614px">44.4</div>
<div class="t r b" style="right:70.0px;top:614px">39.0</div>
<div class="t r b" style="right:4.0px;top:614px">46.8</div>
<div class="t l i lb" style="left:74.32px;top:630px;transform:scaleX(0.8665)">PBT Margin</div>
<div class="t r d" style="right:1262.5px;top:630px">-</div>
<div class="t c g2" style="left:501.0px;top:630px;transform:translateX(-50%) scaleX(0.8)">%</div>
<div class="t r d" style="right:1122.1px;top:630px">-</div>
<div class="t r d" style="right:1056.1px;top:630px">-</div>
<div class="t r d" style="right:990.1px;top:630px">-</div>
<div class="t r" style="right:928.1px;top:630px;transform:scaleX(0.957)">62.8<span class="pc">%</span></div>
<div class="t r" style="right:862.1px;top:630px;transform:scaleX(0.957)">64.9<span class="pc">%</span></div>
<div class="t r" style="right:796.1px;top:630px;transform:scaleX(0.957)">64.7<span class="pc">%</span></div>
<div class="t r" style="right:730.1px;top:630px;transform:scaleX(0.957)">61.7<span class="pc">%</span></div>
<div class="t r" style="right:664.1px;top:630px;transform:scaleX(0.957)">71.2<span class="pc">%</span></div>
<div class="t r" style="right:598.1px;top:630px;transform:scaleX(0.957)">72.0<span class="pc">%</span></div>
<div class="t r" style="right:532.1px;top:630px;transform:scaleX(0.957)">71.2<span class="pc">%</span></div>
<div class="t r" style="right:466.1px;top:630px;transform:scaleX(0.957)">66.5<span class="pc">%</span></div>
<div class="t r" style="right:400.1px;top:630px;transform:scaleX(0.957)">44.6<span class="pc">%</span></div>
<div class="t r" style="right:334.1px;top:630px;transform:scaleX(0.957)">73.7<span class="pc">%</span></div>
<div class="t r" style="right:268.1px;top:630px;transform:scaleX(0.957)">73.9<span class="pc">%</span></div>
<div class="t r" style="right:202.1px;top:630px;transform:scaleX(0.957)">74.0<span class="pc">%</span></div>
<div class="t r" style="right:136.1px;top:630px;transform:scaleX(0.957)">68.7<span class="pc">%</span></div>
<div class="t r" style="right:70.1px;top:630px;transform:scaleX(0.957)">59.5<span class="pc">%</span></div>
<div class="t r" style="right:4.1px;top:630px;transform:scaleX(0.957)">70.2<span class="pc">%</span></div>
<div class="t l lb" style="left:74.37px;top:662px;transform:scaleX(0.8824)">Tax</div>
<div class="t r n" style="right:1262.4px;top:662px">(295.1)</div>
<div class="t c g2" style="left:502.0px;top:662px;transform:translateX(-50%) scaleX(0.885)">US$ 'mn</div>
<div class="t r d" style="right:1122.1px;top:662px">-</div>
<div class="t r d" style="right:1056.1px;top:662px">-</div>
<div class="t r d" style="right:990.1px;top:662px">-</div>
<div class="t r d" style="right:924.1px;top:662px">-</div>
<div class="t r d" style="right:858.1px;top:662px">-</div>
<div class="t r n" style="right:792.0px;top:662px">(7.2)</div>
<div class="t r n" style="right:726.0px;top:662px">(6.9)</div>
<div class="t r n" style="right:660.0px;top:662px">(8.1)</div>
<div class="t r n" style="right:594.0px;top:662px">(8.4)</div>
<div class="t r n" style="right:528.0px;top:662px">(8.4)</div>
<div class="t r n" style="right:462.0px;top:662px">(8.0)</div>
<div class="t r n" style="right:396.0px;top:662px">(5.4)</div>
<div class="t r n" style="right:330.0px;top:662px">(9.1)</div>
<div class="t r n" style="right:264.0px;top:662px">(9.3)</div>
<div class="t r n" style="right:198.0px;top:662px">(9.4)</div>
<div class="t r n" style="right:132.0px;top:662px">(8.9)</div>
<div class="t r n" style="right:66.0px;top:662px">(7.8)</div>
<div class="t r n" style="right:0.0px;top:662px">(9.4)</div>
<div class="t l b lb" style="left:74.03px;top:694px;transform:scaleX(0.9162)">Net Income</div>
<div class="t r b" style="right:1266.4px;top:694px">1,249.6</div>
<div class="t c g2" style="left:502.0px;top:694px;transform:translateX(-50%) scaleX(0.885)">US$ 'mn</div>
<div class="t r d b" style="right:1122.1px;top:694px">-</div>
<div class="t r d b" style="right:1056.1px;top:694px">-</div>
<div class="t r d b" style="right:990.1px;top:694px">-</div>
<div class="t r b" style="right:928.0px;top:694px">33.8</div>
<div class="t r b" style="right:862.0px;top:694px">35.5</div>
<div class="t r b" style="right:796.0px;top:694px">28.7</div>
<div class="t r b" style="right:730.0px;top:694px">27.8</div>
<div class="t r b" style="right:664.0px;top:694px">32.5</div>
<div class="t r b" style="right:598.0px;top:694px">33.4</div>
<div class="t r b" style="right:532.0px;top:694px">33.5</div>
<div class="t r b" style="right:466.0px;top:694px">31.8</div>
<div class="t r b" style="right:400.0px;top:694px">21.7</div>
<div class="t r b" style="right:334.0px;top:694px">36.4</div>
<div class="t r b" style="right:268.0px;top:694px">37.0</div>
<div class="t r b" style="right:202.0px;top:694px">37.7</div>
<div class="t r b" style="right:136.0px;top:694px">35.5</div>
<div class="t r b" style="right:70.0px;top:694px">31.2</div>
<div class="t r b" style="right:4.0px;top:694px">37.4</div>
<div class="t l i lb" style="left:74.32px;top:710px;transform:scaleX(0.9228)">Net Income Margin</div>
<div class="t r d" style="right:1262.5px;top:710px">-</div>
<div class="t c g2" style="left:501.0px;top:710px;transform:translateX(-50%) scaleX(0.8)">%</div>
<div class="t r d" style="right:1122.1px;top:710px">-</div>
<div class="t r d" style="right:1056.1px;top:710px">-</div>
<div class="t r d" style="right:990.1px;top:710px">-</div>
<div class="t r" style="right:928.1px;top:710px;transform:scaleX(0.957)">62.8<span class="pc">%</span></div>
<div class="t r" style="right:862.1px;top:710px;transform:scaleX(0.957)">64.9<span class="pc">%</span></div>
<div class="t r" style="right:796.1px;top:710px;transform:scaleX(0.957)">51.7<span class="pc">%</span></div>
<div class="t r" style="right:730.1px;top:710px;transform:scaleX(0.957)">49.4<span class="pc">%</span></div>
<div class="t r" style="right:664.1px;top:710px;transform:scaleX(0.957)">56.9<span class="pc">%</span></div>
<div class="t r" style="right:598.1px;top:710px;transform:scaleX(0.957)">57.6<span class="pc">%</span></div>
<div class="t r" style="right:532.1px;top:710px;transform:scaleX(0.957)">56.9<span class="pc">%</span></div>
<div class="t r" style="right:466.1px;top:710px;transform:scaleX(0.957)">53.2<span class="pc">%</span></div>
<div class="t r" style="right:400.1px;top:710px;transform:scaleX(0.957)">35.6<span class="pc">%</span></div>
<div class="t r" style="right:334.1px;top:710px;transform:scaleX(0.957)">59.0<span class="pc">%</span></div>
<div class="t r" style="right:268.1px;top:710px;transform:scaleX(0.957)">59.2<span class="pc">%</span></div>
<div class="t r" style="right:202.1px;top:710px;transform:scaleX(0.957)">59.2<span class="pc">%</span></div>
<div class="t r" style="right:136.1px;top:710px;transform:scaleX(0.957)">55.0<span class="pc">%</span></div>
<div class="t r" style="right:70.1px;top:710px;transform:scaleX(0.957)">47.6<span class="pc">%</span></div>
<div class="t r" style="right:4.1px;top:710px;transform:scaleX(0.957)">56.2<span class="pc">%</span></div>
<div class="hl" style="top:181px"></div>
<div class="hl" style="top:293px"></div>
<div class="hl" style="top:373px"></div>
<div class="hl" style="top:453px"></div>
<div class="hl" style="top:613px"></div>
<div class="hl" style="top:693px"></div>
<div class="vl"></div>
</div></body></html>
